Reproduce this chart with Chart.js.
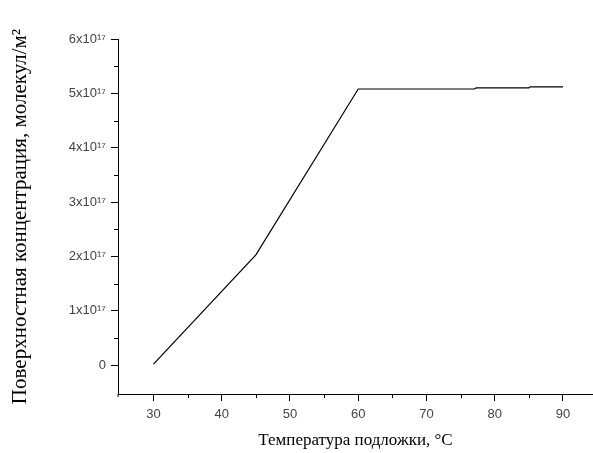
<!DOCTYPE html>
<html><head><meta charset="utf-8">
<script src="https://cdn.jsdelivr.net/npm/chart.js@4/dist/chart.umd.min.js"></script>
<style>html,body{margin:0;padding:0;background:#fff;overflow:hidden}</style>
</head><body>
<canvas id="c" width="593" height="453"></canvas>
<script>
const temperature = [30, 45, 60, 77, 77.3, 85, 85.2, 90];
const concentration = [0.02e17, 2.03e17, 5.08e17, 5.08e17, 5.10e17, 5.10e17, 5.12e17, 5.12e17];
const xMajorTicks = [30, 40, 50, 60, 70, 80, 90];
const xMinorTicks = [35, 45, 55, 65, 75, 85];
const yMajorTicks = [0, 1e17, 2e17, 3e17, 4e17, 5e17, 6e17];
const yTickLabels = ['0', '1x10\u00B9\u2077', '2x10\u00B9\u2077', '3x10\u00B9\u2077', '4x10\u00B9\u2077', '5x10\u00B9\u2077', '6x10\u00B9\u2077'];
const yMinorTicks = [0.5e17, 1.5e17, 2.5e17, 3.5e17, 4.5e17, 5.5e17];
const xTitle = 'Температура подложки, \u00B0C';
const yTitle = 'Поверхностная концентрация, молекул/м\u00B2';

const minorTicks = {
  id: 'minorTicks',
  afterDraw(chart) {
    const ctx = chart.ctx, xs = chart.scales.x, ys = chart.scales.y;
    ctx.save();
    ctx.strokeStyle = '#000';
    ctx.lineWidth = 1;
    ctx.beginPath();
    xMinorTicks.forEach(v => {
      const px = Math.round(xs.getPixelForValue(v)) + 0.5;
      ctx.moveTo(px, xs.top); ctx.lineTo(px, xs.top + 4);
    });
    yMinorTicks.forEach(v => {
      const py = Math.round(ys.getPixelForValue(v)) + 0.5;
      ctx.moveTo(ys.right, py); ctx.lineTo(ys.right - 4, py);
    });
    ctx.moveTo(ys.right, xs.top); ctx.lineTo(ys.right, xs.top + 3);
    ctx.stroke();
    ctx.restore();
  }
};

const tickFont = {family: '"Liberation Sans", Arial, sans-serif', size: 13};
const xTitleFont = {family: '"Liberation Serif", "Times New Roman", serif', size: 17};
const yTitleFont = {family: '"Liberation Serif", "Times New Roman", serif', size: 21};

new Chart(document.getElementById('c'), {
  type: 'line',
  data: {
    datasets: [{
      data: temperature.map((t, i) => ({x: t, y: concentration[i]})),
      borderColor: '#000',
      borderWidth: 1.2,
      pointRadius: 0,
      tension: 0,
      fill: false
    }]
  },
  options: {
    responsive: false,
    animation: false,
    devicePixelRatio: 1,
    layout: {padding: {top: 39, right: 0, left: 0, bottom: 0}},
    plugins: {legend: {display: false}, tooltip: {enabled: false}},
    scales: {
      x: {
        type: 'linear',
        min: 24.8,
        max: 94.4,
        afterBuildTicks: s => { s.ticks = xMajorTicks.map(v => ({value: v})); },
        afterFit: s => { s.height = 59; },
        grid: {drawOnChartArea: false, drawTicks: true, tickLength: 7, color: '#000', tickColor: '#000'},
        border: {display: true, color: '#000', width: 1},
        ticks: {font: tickFont, color: '#444', padding: 6, maxRotation: 0, autoSkip: false},
        title: {display: true, text: xTitle, font: xTitleFont, color: '#000', padding: {top: 0, bottom: 2}}
      },
      y: {
        type: 'linear',
        min: -0.53e17,
        max: 6e17,
        afterBuildTicks: s => { s.ticks = yMajorTicks.map(v => ({value: v})); },
        afterFit: s => { s.width = 118; },
        grid: {drawOnChartArea: false, drawTicks: true, tickLength: 7, color: '#000', tickColor: '#000'},
        border: {display: true, color: '#000', width: 1},
        ticks: {
          font: tickFont, color: '#444', padding: 5, autoSkip: false,
          callback: (v) => { const i = yMajorTicks.indexOf(v); return i >= 0 ? yTickLabels[i] : ''; }
        },
        title: {display: true, text: yTitle, font: yTitleFont, color: '#000', padding: {top: 8, bottom: 0}}
      }
    }
  },
  plugins: [minorTicks]
});
</script>
</body></html>
